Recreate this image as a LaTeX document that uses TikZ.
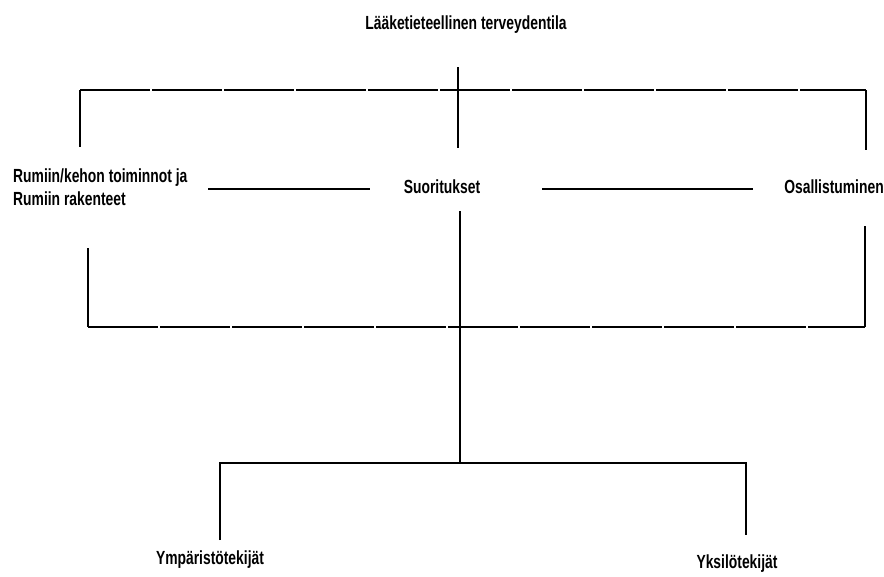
\documentclass[tikz,border=0pt]{standalone}
\usepackage{fontspec}
\setmainfont{Liberation Sans}[FakeStretch=0.73]
\begin{document}
\begin{tikzpicture}[x=1pt,y=-1pt,
  lbl/.style={inner sep=0pt,font=\bfseries\fontsize{19}{23}\selectfont,align=left},
  ln/.style={line width=1.6pt},
  seg/.style={line width=1.6pt,dash pattern=on 70pt off 2pt}]
\useasboundingbox (0,0) rectangle (884,576);
% nodes
\node[lbl] (title) at (466,25) {Lääketieteellinen terveydentila};
\node[lbl,anchor=west] (body) at (13,187) {Rumiin/kehon toiminnot ja\\Rumiin rakenteet};
\node[lbl] (suor) at (442,187) {Suoritukset};
\node[lbl] (osal) at (834,187) {Osallistuminen};
\node[lbl] (ymp) at (210,560) {Ympäristötekijät};
\node[lbl] (yks) at (737,564) {Yksilötekijät};
% coordinates
\coordinate (t0) at (458,67);
\coordinate (t1) at (458,148);
\coordinate (tl) at (80,90);
\coordinate (tr) at (866,90);
\coordinate (tlb) at (80,147);
\coordinate (trb) at (866,150);
\coordinate (h1a) at (208,189);
\coordinate (h1b) at (370,189);
\coordinate (h2a) at (542,189);
\coordinate (h2b) at (753,189);
\coordinate (bl0) at (88,248);
\coordinate (bl) at (88,327);
\coordinate (br) at (865,327);
\coordinate (br0) at (865,226);
\coordinate (m0) at (460,211);
\coordinate (m1) at (460,463);
\coordinate (dl) at (220,463);
\coordinate (dr) at (746,463);
\coordinate (dl1) at (220,540);
\coordinate (dr1) at (746,535);
% connectors
\draw[ln] (t0) -- (t1);
\draw[seg] (tl) -- (tr);
\draw[ln] (tl) -- (tlb);
\draw[ln] (tr) -- (trb);
\draw[ln] (h1a) -- (h1b);
\draw[ln] (h2a) -- (h2b);
\draw[ln] (bl0) -- (bl);
\draw[seg] (bl) -- (br);
\draw[ln] (br) -- (br0);
\draw[ln] (m0) -- (m1);
\draw[ln] (dl1) -- (dl) -- (dr) -- (dr1);
\end{tikzpicture}
\end{document}
